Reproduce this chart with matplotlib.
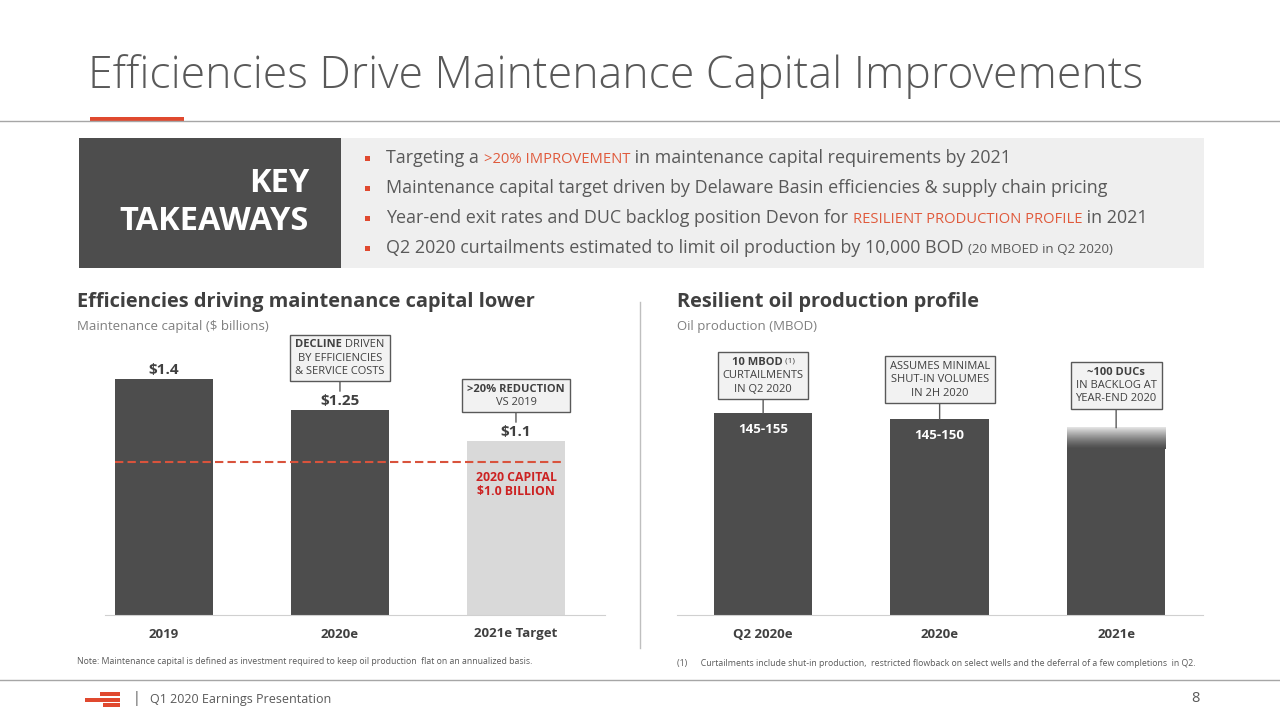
import matplotlib
matplotlib.use('Agg')
import matplotlib.pyplot as plt
import matplotlib.transforms as mtrans
from matplotlib.patches import Rectangle
from matplotlib.offsetbox import AnnotationBbox, TextArea, HPacker, VPacker
import numpy as np

plt.rcParams['font.family'] = ['Open Sans', 'DejaVu Sans']

# ---- data ----
cap_years = ['2019', '2020e', '2021e Target']
cap_values = [1.4, 1.25, 1.1]
cap_labels = ['$1.4', '$1.25', '$1.1']
cap_2020 = 1.0
cap_axis_min = 0.258

oil_periods = ['Q2 2020e', '2020e', '2021e']
oil_values = [150, 147.5, 144]
oil_labels = ['145-155', '145-150', '']
oil_axis_min = 66

bullets = [
    [('Targeting a ', 'n'), ('>20% IMPROVEMENT', 'r'), (' in maintenance capital requirements by 2021', 'n')],
    [('Maintenance capital target driven by Delaware Basin efficiencies & supply chain pricing', 'n')],
    [('Year-end exit rates and DUC backlog position Devon for ', 'n'), ('RESILIENT PRODUCTION PROFILE', 'r'), (' in 2021', 'n')],
    [('Q2 2020 curtailments estimated to limit oil production by 10,000 BOD ', 'n'), ('(20 MBOED in Q2 2020)', 's')],
]

# callout boxes: list of lines, each line a list of (text, bold)
cap_boxes = [
    None,
    [[('DECLINE', True), (' DRIVEN', False)], [('BY EFFICIENCIES', False)], [('& SERVICE COSTS', False)]],
    [[('>20% REDUCTION', True)], [('VS 2019', False)]],
]
oil_boxes = [
    [[('10 MBOD', True), (' (1)', 'sup')], [('CURTAILMENTS', False)], [('IN Q2 2020', False)]],
    [[('ASSUMES MINIMAL', False)], [('SHUT-IN VOLUMES', False)], [('IN 2H 2020', False)]],
    [[('~100 DUCs', True)], [('IN BACKLOG AT', False)], [('YEAR-END 2020', False)]],
]

DARK = '#4d4d4d'
LIGHT = '#d9d9d9'
TXT = '#595959'
RED = '#e0492f'
RED2 = '#cc2222'

fig = plt.figure(figsize=(12.8, 7.2), dpi=100)


def fx(px):
    return px / 1280


def fy(py):
    return 1 - py / 720


# ---- header ----
fig.text(fx(88), fy(77), 'Efficiencies Drive Maintenance Capital Improvements',
         fontsize=32, fontweight='light', color='#595959', va='center', ha='left')
fig.add_artist(plt.Line2D([0, 1], [fy(121), fy(121)], color='#a6a6a6', lw=1))
fig.add_artist(Rectangle((fx(90), fy(121)), fx(94), 4 / 720, color=RED, lw=0))

# key takeaways panel
fig.add_artist(Rectangle((fx(79), fy(268)), fx(262), 130 / 720, color=DARK, lw=0))
fig.add_artist(Rectangle((fx(341), fy(268)), fx(863), 130 / 720, color='#efefef', lw=0))
fig.text(fx(309), fy(202), 'KEY\nTAKEAWAYS', color='white', fontsize=23.5, fontweight='bold',
         ha='right', va='center', multialignment='right', linespacing=1.2)

renderer = fig.canvas.get_renderer()
styles = {'n': dict(fontsize=12.9, color=TXT),
          'r': dict(fontsize=10.6, color='#e05a3c'),
          's': dict(fontsize=9.6, color=TXT)}
for i, parts in enumerate(bullets):
    yb = fy(163 + 30 * i)
    fig.add_artist(Rectangle((fx(365), yb + 2 / 720), fx(5), 5 / 720, color=RED, lw=0))
    x = fx(386)
    for s, st in parts:
        t = fig.text(x, yb, s, ha='left', va='baseline', **styles[st])
        x += t.get_window_extent(renderer).width / fig.bbox.width

# separator and footer
fig.add_artist(plt.Line2D([fx(640), fx(640)], [fy(302), fy(648)], color='#bfbfbf', lw=1))
fig.add_artist(plt.Line2D([0, 1], [fy(680), fy(680)], color='#a6a6a6', lw=1))
for (x0, x1, yy) in [(100, 120, 694), (85, 120, 699.5), (103, 120, 705)]:
    fig.add_artist(Rectangle((fx(x0), fy(yy + 2)), fx(x1 - x0), 4 / 720, color=RED, lw=0))
fig.text(fx(133), fy(699), '|', fontsize=10, color=TXT, va='center')
fig.text(fx(150), fy(699), 'Q1 2020 Earnings Presentation', fontsize=9, color=TXT, va='center')
fig.text(fx(1200), fy(699), '8', fontsize=10.5, color=TXT, va='center', ha='right')

# chart headings
fig.text(fx(77), fy(302), 'Efficiencies driving maintenance capital lower', fontsize=14.4,
         fontweight='bold', color='#404040', va='center')
fig.text(fx(77), fy(327), 'Maintenance capital ($ billions)', fontsize=9.5, color='#7f7f7f', va='center')
fig.text(fx(677), fy(302), 'Resilient oil production profile', fontsize=14.4,
         fontweight='bold', color='#404040', va='center')
fig.text(fx(677), fy(327), 'Oil production (MBOD)', fontsize=9.5, color='#7f7f7f', va='center')

fig.text(fx(77), fy(662), 'Note: Maintenance capital is defined as investment required to keep oil production  '
         'flat on an annualized basis.', fontsize=6.3, color=TXT, va='center')
fig.text(fx(677), fy(663), '(1)      Curtailments include shut-in production,  restricted flowback on select wells '
         'and the deferral of a few completions  in Q2.', fontsize=6.3, color=TXT, va='center')


def style_axes(ax, labels):
    for s in ['top', 'right', 'left']:
        ax.spines[s].set_visible(False)
    ax.spines['bottom'].set_color('#d0d0d0')
    ax.set_yticks([])
    ax.set_xticks(range(len(labels)))
    ax.set_xticklabels(labels, fontsize=9.5, fontweight='bold', color='#404040')
    ax.tick_params(axis='x', length=0, pad=9)
    ax.patch.set_visible(False)


def callout(ax, x, y, lines, lift, gap):
    rows = []
    for line in lines:
        kids = []
        for s, b in line:
            if b == 'sup':
                kids.append(TextArea(s, textprops=dict(fontsize=6, color='#404040')))
            else:
                kids.append(TextArea(s, textprops=dict(fontsize=8, color='#404040',
                                                       fontweight='bold' if b else 'normal')))
        rows.append(HPacker(children=kids, sep=0, pad=0, align='top'))
    box = VPacker(children=rows, sep=1.5, pad=0, align='center')
    tr = ax.transData + mtrans.ScaledTranslation(0, lift / 72, fig.dpi_scale_trans)
    ab = AnnotationBbox(box, (x, y), xycoords=tr,
                        xybox=(0, gap), boxcoords='offset points', box_alignment=(0.5, 0),
                        pad=0.35, frameon=True,
                        bboxprops=dict(facecolor='#f2f2f2', edgecolor='#595959', lw=1),
                        arrowprops=dict(arrowstyle='-', color='#595959', lw=1,
                                        shrinkA=0, shrinkB=0))
    ax.add_artist(ab)


# ---- left chart ----
ax1 = fig.add_axes([fx(105), 105 / 720, 500 / 1280, 275 / 720])
bw = 0.557
colors1 = [DARK, DARK, LIGHT]
xs = np.arange(len(cap_values))
ax1.bar(xs, cap_values, width=bw, color=colors1, bottom=0)
ax1.set_xlim(-0.335, -0.335 + 500 / 176)
ax1.set_ylim(cap_axis_min, cap_axis_min + 275 / 206.7)
style_axes(ax1, cap_years)
for x, v, lab in zip(xs, cap_values, cap_labels):
    ax1.annotate(lab, (x, v), xytext=(0, 6.5), textcoords='offset points', ha='center', va='center',
                 fontsize=11, fontweight='bold', color='#404040')
ax1.plot([xs[0] - bw / 2, xs[-1] + bw / 2], [cap_2020, cap_2020], color='#d9533c', lw=1.5,
         ls=(0, (4, 2)))
ax1.annotate('2020 CAPITAL\n$1.0 BILLION', (xs[-1], cap_2020), xytext=(0, -6.5),
             textcoords='offset points', ha='center', va='top', fontsize=8.8, fontweight='bold',
             color=RED2, linespacing=1.15)
for x, v, lines in zip(xs, cap_values, cap_boxes):
    if lines:
        callout(ax1, x, v, lines, lift=13.5, gap=10.5)

# ---- right chart ----
ax2 = fig.add_axes([fx(677), 105 / 720, 526 / 1280, 275 / 720])
xs2 = np.arange(len(oil_values))
bars = ax2.bar(xs2, oil_values, width=bw, color=DARK)
ax2.set_xlim(-0.488, -0.488 + 526 / 176.5)
ax2.set_ylim(oil_axis_min, oil_axis_min + 275 / 2.4)
style_axes(ax2, oil_periods)
for x, v, lab in zip(xs2, oil_values, oil_labels):
    if lab:
        ax2.annotate(lab, (x, v), xytext=(0, -7), textcoords='offset points', ha='center', va='top',
                     fontsize=9.5, fontweight='bold', color='white')

# fade on top of last bar
last = bars[-1]
grad = np.linspace(0, 1, 64)[:, None]
c0 = np.array([0.30, 0.30, 0.30])
c1 = np.array([0.90, 0.90, 0.90])
img = np.zeros((64, 2, 3))
for k in range(3):
    img[:, :, k] = c0[k] + (c1[k] - c0[k]) * grad ** 1.3
ax2.imshow(img, extent=[last.get_x(), last.get_x() + last.get_width(),
                        oil_values[-1] - 9, oil_values[-1]], origin='lower', aspect='auto',
           zorder=3, interpolation='bilinear')
ax2.set_xlim(-0.488, -0.488 + 526 / 176.5)
ax2.set_ylim(oil_axis_min, oil_axis_min + 275 / 2.4)

for x, v, lines in zip(xs2, oil_values, oil_boxes):
    callout(ax2, x, v, lines, lift=0, gap=[15, 17, 20][x] * 0.72 + 2.8)

fig.savefig('out.png', dpi=100)
